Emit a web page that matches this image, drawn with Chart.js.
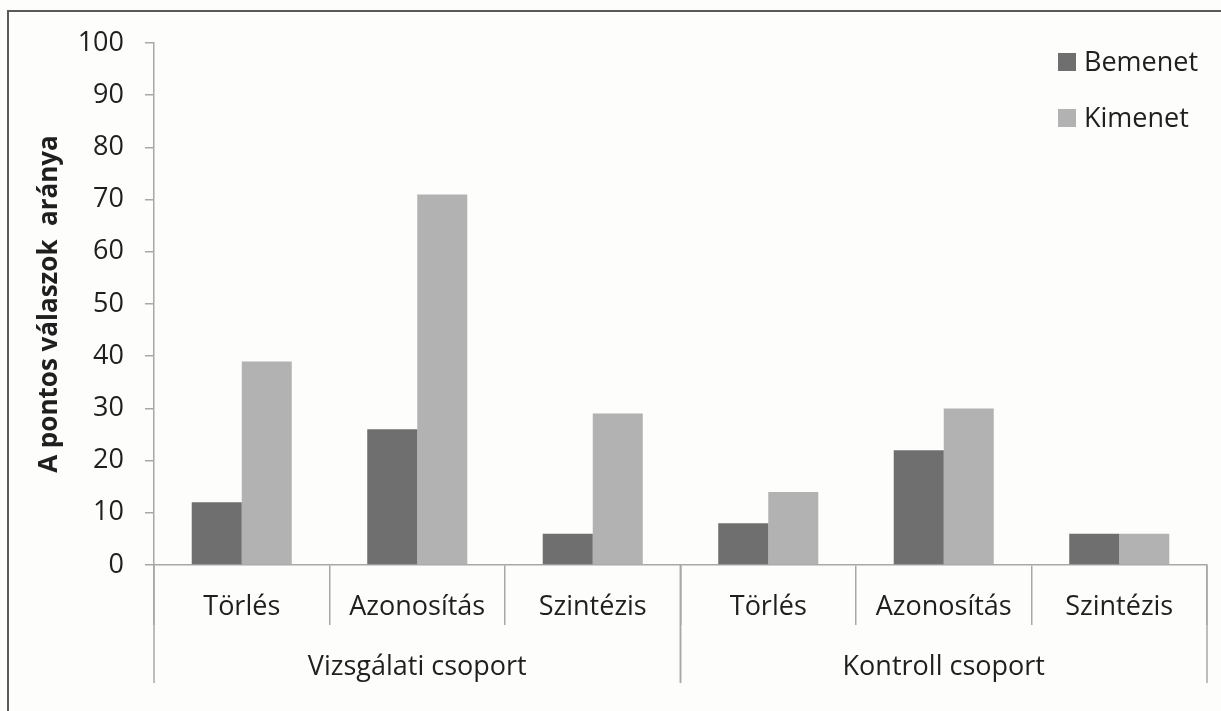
<!DOCTYPE html>
<html>
<head>
<meta charset="utf-8">
<script src="https://cdn.jsdelivr.net/npm/chart.js@4.4.1/dist/chart.umd.min.js"></script>
<style>
  html, body { margin: 0; padding: 0; background: #fdfdfb; }
  #wrap { width: 1221px; height: 711px; position: relative; }
</style>
</head>
<body>
<div id="wrap"><canvas id="chart" width="1221" height="711"></canvas></div>
<script>
  // Data
  const categories = ['Törlés', 'Azonosítás', 'Szintézis', 'Törlés', 'Azonosítás', 'Szintézis'];
  const groups = ['Vizsgálati csoport', 'Kontroll csoport'];
  const groupSizes = [3, 3];
  const seriesNames = ['Bemenet', 'Kimenet'];
  const bemenet = [12, 26, 6, 8, 22, 6];
  const kimenet = [39, 71, 29, 14, 30, 6];
  const yMin = 0, yMax = 100, yStep = 10;
  const yTitle = 'A pontos válaszok  aránya';

  const FONT = '"Open Sans", "DejaVu Sans", sans-serif';
  const textColor = '#1f1f1f';
  const axisColor = '#a8a8a8';
  const darkGray = '#6f6f6f';
  const lightGray = '#b2b2b2';

  // background + outer frame (only left/top visible in the crop)
  const frame = {
    id: 'frame',
    beforeDraw(chart) {
      const ctx = chart.ctx;
      ctx.save();
      ctx.fillStyle = '#fdfdfb';
      ctx.fillRect(0, 0, chart.width, chart.height);
      ctx.strokeStyle = '#5a5a5a';
      ctx.lineWidth = 2;
      ctx.strokeRect(8, 11, chart.width + 20, chart.height + 20);
      ctx.restore();
    }
  };

  // second row of x labels: group names and the long separators
  const groupAxis = {
    id: 'groupAxis',
    afterDraw(chart) {
      const x = chart.scales.x, ctx = chart.ctx;
      const half = (x.getPixelForValue(1) - x.getPixelForValue(0)) / 2;
      const top = x.top;
      ctx.save();
      ctx.strokeStyle = axisColor;
      ctx.lineWidth = 1.5;
      ctx.fillStyle = textColor;
      ctx.font = '27px ' + FONT;
      ctx.textAlign = 'center';
      ctx.textBaseline = 'middle';
      let start = 0;
      groups.forEach((g, i) => {
        const end = start + groupSizes[i] - 1;
        const l = x.getPixelForValue(start) - half;
        const r = x.getPixelForValue(end) + half;
        ctx.beginPath();
        ctx.moveTo(l, top); ctx.lineTo(l, top + 118);
        ctx.moveTo(r, top); ctx.lineTo(r, top + 118);
        ctx.stroke();
        ctx.fillText(g, (l + r) / 2, top + 102);
        start += groupSizes[i];
      });
      ctx.restore();
    }
  };

  // legend in the upper right corner, stacked
  const cornerLegend = {
    id: 'cornerLegend',
    afterDraw(chart) {
      const ctx = chart.ctx;
      ctx.save();
      ctx.font = '27px ' + FONT;
      ctx.textBaseline = 'middle';
      ctx.textAlign = 'left';
      chart.data.datasets.forEach((ds, i) => {
        const y = 62 + i * 56;
        ctx.fillStyle = ds.backgroundColor;
        ctx.fillRect(1058, y - 9, 18, 18);
        ctx.fillStyle = textColor;
        ctx.fillText(ds.label, 1084, y + 1);
      });
      ctx.restore();
    }
  };

  const ctx = document.getElementById('chart').getContext('2d');
  new Chart(ctx, {
    type: 'bar',
    data: {
      labels: categories,
      datasets: [
        { label: seriesNames[0], data: bemenet, backgroundColor: darkGray, borderWidth: 0 },
        { label: seriesNames[1], data: kimenet, backgroundColor: lightGray, borderWidth: 0 }
      ]
    },
    options: {
      responsive: false,
      animation: false,
      devicePixelRatio: 1,
      categoryPercentage: 0.57,
      barPercentage: 1.0,
      layout: { padding: { top: 43, right: 14, bottom: 0, left: 0 } },
      plugins: {
        legend: { display: false },
        tooltip: { enabled: false }
      },
      scales: {
        y: {
          min: yMin,
          max: yMax,
          ticks: {
            stepSize: yStep,
            padding: 21,
            color: textColor,
            font: { family: FONT, size: 27 }
          },
          grid: { drawOnChartArea: false, tickLength: 9, color: axisColor, lineWidth: 1.5 },
          border: { color: axisColor, width: 1.5 },
          title: {
            display: true,
            text: yTitle,
            color: textColor,
            font: { family: FONT, size: 26, weight: 'bold' },
            padding: { top: 34, bottom: 0 }
          },
          afterFit: s => { s.width = 154; }
        },
        x: {
          offset: true,
          grid: { offset: true, drawOnChartArea: false, tickLength: 60, color: axisColor, lineWidth: 1.5 },
          border: { color: axisColor, width: 1.5 },
          ticks: {
            padding: -34,
            autoSkip: false,
            maxRotation: 0,
            color: textColor,
            font: { family: FONT, size: 27 }
          },
          afterFit: s => { s.height = 146; }
        }
      }
    },
    plugins: [frame, groupAxis, cornerLegend]
  });
</script>
</body>
</html>
